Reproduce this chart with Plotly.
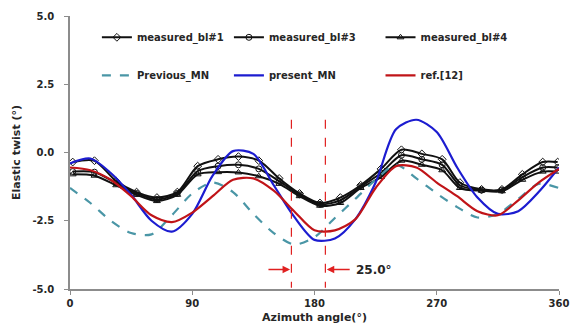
import plotly.graph_objects as go

# Azimuth stations of the blade measurements (deg)
meas_psi = [2, 18, 34, 49, 64, 79, 94, 109, 124, 139, 154, 169, 184,
            199, 214, 229, 244, 259, 274, 287, 303, 318, 333, 348, 359]
bl1 = [-0.35, -0.30, -1.05, -1.45, -1.65, -1.45, -0.50, -0.25, -0.15, -0.30,
       -0.95, -1.50, -1.85, -1.65, -1.20, -0.60, 0.10, -0.05, -0.25, -1.10,
       -1.35, -1.35, -0.80, -0.35, -0.35]
bl3 = [-0.70, -0.72, -1.12, -1.50, -1.72, -1.50, -0.68, -0.50, -0.45, -0.60,
       -1.05, -1.55, -1.90, -1.75, -1.25, -0.75, -0.10, -0.25, -0.45, -1.20,
       -1.38, -1.38, -0.90, -0.55, -0.55]
bl4 = [-0.80, -0.85, -1.20, -1.55, -1.78, -1.55, -0.80, -0.72, -0.73, -0.87,
       -1.15, -1.60, -1.95, -1.85, -1.30, -0.90, -0.30, -0.45, -0.65, -1.30,
       -1.40, -1.42, -1.00, -0.70, -0.70]

# Predicted twist at 15 deg steps
psi = [0, 15, 30, 45, 60, 75, 90, 105, 120, 135, 150, 165, 180,
       195, 210, 225, 240, 255, 270, 285, 300, 315, 330, 345, 360]
previous_mn = [-1.30, -1.85, -2.50, -2.95, -3.00, -2.30, -1.50, -1.10, -1.45,
               -2.25, -2.95, -3.37, -3.10, -2.40, -1.70, -1.00, -0.45, -0.95,
               -1.50, -2.00, -2.38, -2.25, -1.70, -1.15, -1.30]
present_mn = [-0.40, -0.22, -0.75, -1.55, -2.50, -2.90, -2.25, -0.85, 0.05,
              -0.05, -1.20, -2.35, -3.20, -3.15, -2.45, -1.10, 0.85, 1.20,
              0.75, -0.55, -1.65, -2.25, -2.15, -1.45, -0.55]
ref12 = [-0.55, -0.65, -1.00, -1.60, -2.30, -2.55, -2.20, -1.60, -1.00,
         -0.95, -1.40, -2.15, -2.85, -2.85, -2.45, -1.30, -0.50, -0.55,
         -1.10, -1.60, -2.15, -2.30, -1.75, -1.10, -0.60]

# Phase shift markers
phase_lines = [163, 188]
phase_label = "25.0°"

x_ticks = [0, 90, 180, 270, 360]
y_ticks = [5.0, 2.5, 0.0, -2.5, -5.0]
y_tick_text = ["5.0", "2.5", "0.0", "-2.5", "-5.0"]

FONT = "DejaVu Sans"
TXT = "#262626"
RED_MARK = "#e02020"

fig = go.Figure()

meas = [("measured_bl#1", bl1, "diamond-open", "legend"),
        ("measured_bl#3", bl3, "circle-open", "legend2"),
        ("measured_bl#4", bl4, "triangle-up-open", "legend3")]
for name, vals, sym, lg in meas:
    fig.add_trace(go.Scatter(
        x=meas_psi, y=vals, name=name, mode="lines+markers",
        line=dict(color="#111111", width=2, shape="spline", smoothing=0.8),
        marker=dict(symbol=sym, size=6, color="#111111", line=dict(width=1)),
        legend=lg, legendgroup=name, legendrank=1))

models = [("Previous_MN", previous_mn, "#4a96a6", "dash", "legend"),
          ("present_MN", present_mn, "#1c1cd0", "solid", "legend2"),
          ("ref.[12]", ref12, "#c01418", "solid", "legend3")]
for name, vals, col, dash, lg in models:
    fig.add_trace(go.Scatter(
        x=psi, y=vals, name=name, mode="lines",
        line=dict(color=col, width=2.2, dash=dash, shape="spline", smoothing=0.8),
        legend=lg, legendgroup=name, legendrank=2))

for xv in phase_lines:
    fig.add_shape(type="line", x0=xv, x1=xv, y0=1.2, y1=-4.95,
                  xref="x", yref="y", layer="above",
                  line=dict(color=RED_MARK, width=1.2, dash="dash"))

# arrows pointing at the two dashed lines
fig.add_annotation(x=phase_lines[0] - 1, y=-4.29, ax=phase_lines[0] - 18, ay=-4.29,
                   xref="x", yref="y", axref="x", ayref="y", text="",
                   showarrow=True, arrowhead=2, arrowsize=1, arrowwidth=1.5,
                   arrowcolor=RED_MARK)
fig.add_annotation(x=phase_lines[1] + 1, y=-4.29, ax=phase_lines[1] + 19, ay=-4.29,
                   xref="x", yref="y", axref="x", ayref="y", text="",
                   showarrow=True, arrowhead=2, arrowsize=1, arrowwidth=1.5,
                   arrowcolor=RED_MARK)
fig.add_annotation(x=phase_lines[1] + 21, y=-4.29, xref="x", yref="y",
                   text="<b>" + phase_label + "</b>", showarrow=False,
                   xanchor="left", yanchor="middle",
                   font=dict(family=FONT, size=12, color=TXT))

leg_common = dict(orientation="v", yanchor="top", y=0.975, xanchor="left",
                  bgcolor="rgba(0,0,0,0)", tracegroupgap=19, itemwidth=30,
                  font=dict(family=FONT, size=10, color=TXT, weight="bold"))
fig.update_layout(
    width=571, height=333,
    margin=dict(l=70, r=12, t=16, b=44),
    paper_bgcolor="white", plot_bgcolor="white",
    showlegend=True,
    legend=dict(x=0.055, **leg_common),
    legend2=dict(x=0.325, **leg_common),
    legend3=dict(x=0.635, **leg_common),
    xaxis=dict(range=[0, 360], tickvals=x_ticks, showgrid=False, zeroline=False,
               showline=True, linecolor="#8c8c8c", linewidth=1.5,
               ticks="outside", ticklen=4, tickcolor="#8c8c8c",
               ticklabeloverflow="allow", automargin=False,
               tickfont=dict(family=FONT, size=10, color=TXT, weight="bold"),
               title=dict(text="Azimuth angle(°)", standoff=6,
                          font=dict(family=FONT, size=11, color=TXT, weight="bold"))),
    yaxis=dict(range=[-5, 5], tickvals=y_ticks, ticktext=y_tick_text,
               showgrid=False, zeroline=False, automargin=False,
               showline=True, linecolor="#8c8c8c", linewidth=1.5,
               ticks="outside", ticklen=4, tickcolor="#8c8c8c",
               ticklabelstandoff=8,
               tickfont=dict(family=FONT, size=10, color=TXT, weight="bold"),
               title=dict(text="Elastic twist (°)", standoff=10,
                          font=dict(family=FONT, size=11, color=TXT, weight="bold"))),
)

fig.write_html("out.html")
